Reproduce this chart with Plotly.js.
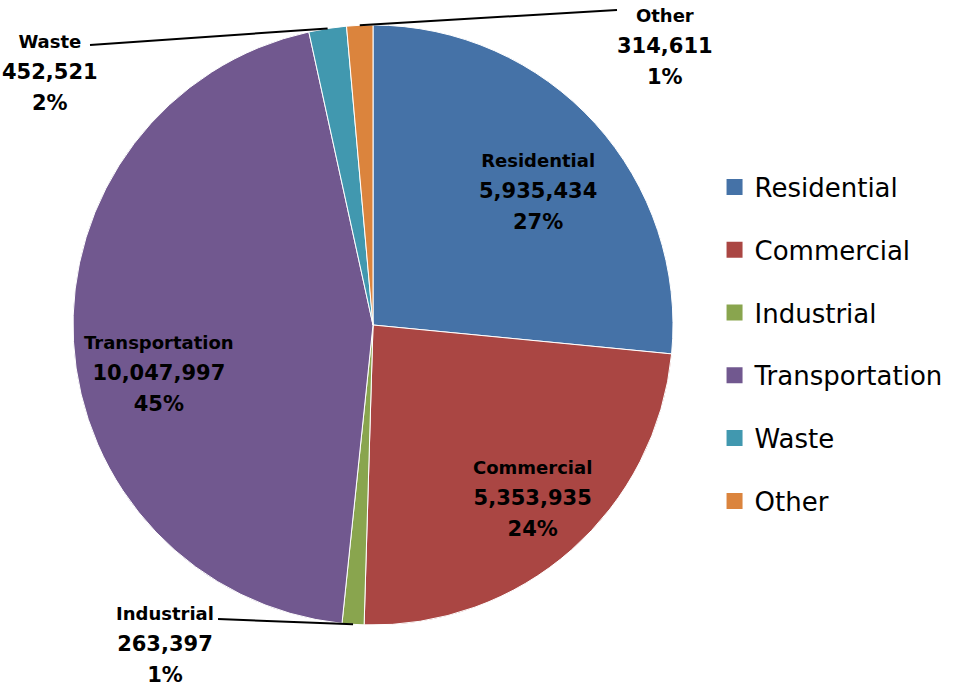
<!DOCTYPE html>
<html>
<head>
<meta charset="utf-8">
<script src="https://cdn.plot.ly/plotly-3.0.1.min.js"></script>
<style>html,body{margin:0;padding:0;background:#fff;}#chart{width:954px;height:687px;}</style>
</head>
<body>
<div id="chart"></div>
<script>
const categories = ['Residential', 'Commercial', 'Industrial', 'Transportation', 'Waste', 'Other'];
const values = [5935434, 5353935, 263397, 10047997, 452521, 314611];
const colors = ['#4572A7', '#AA4643', '#89A54E', '#71588F', '#4198AF', '#DB843D'];

const W = 954, H = 687;
const CX = 373, CY = 325, R = 300;
const FONT = 'DejaVu Sans, sans-serif';

const total = values.reduce((a, b) => a + b, 0);
function pxToPaper(px, py) { return [px / W, 1 - py / H]; }

// mid-angle of each slice (clockwise from 12 o'clock), derived from the data
let cum = 0;
const midAngle = values.map(v => {
  const mid = (cum + v / 2) / total * 2 * Math.PI;
  cum += v;
  return mid;
});
function polar(a, r) { return [CX + r * Math.sin(a), CY - r * Math.cos(a)]; }

// label placement style: inside labels use radial factor + nudge; outside labels
// use a text centre and a leader-line tail (pixels)
const labelStyle = [
  {inside: true, rf: 0.72, dx: 5, dy: 12},
  {inside: true, rf: 0.74, dx: 13, dy: 7},
  {inside: false, tx: 165, ty: 645, lx: 218, ly: 619},
  {inside: true, rf: 0.72, dx: 2, dy: 37},
  {inside: false, tx: 50, ty: 73, lx: 90, ly: 45},
  {inside: false, tx: 665, ty: 47, lx: 617, ly: 10}
];

const annotations = [];
const shapes = [];
categories.forEach((c, i) => {
  const s = labelStyle[i];
  const pct = Math.round(values[i] / total * 100) + '%';
  let px, py;
  if (s.inside) {
    [px, py] = polar(midAngle[i], R * s.rf);
    px += s.dx; py += s.dy;
  } else {
    px = s.tx; py = s.ty;
    const [ex, ey] = polar(midAngle[i], R);
    const [x0, y0] = pxToPaper(ex, ey);
    const [x1, y1] = pxToPaper(s.lx, s.ly);
    shapes.push({type: 'line', xref: 'paper', yref: 'paper', x0: x0, y0: y0, x1: x1, y1: y1,
      line: {color: '#000', width: 2}});
  }
  const [ax, ay] = pxToPaper(px, py);
  annotations.push({
    xref: 'paper', yref: 'paper', x: ax, y: ay, xanchor: 'center', yanchor: 'middle',
    showarrow: false, align: 'center',
    text: '<b><span style="font-size:18px">' + c + '</span><br><span style="font-size:21px">' +
      values[i].toLocaleString('en-US') + '</span><br><span style="font-size:21px">' + pct + '</span></b>',
    font: {family: FONT, size: 24, color: '#000'}
  });
});

const pie = {
  type: 'pie',
  labels: categories,
  values: values,
  sort: false,
  direction: 'clockwise',
  rotation: 0,
  marker: {colors: colors, line: {color: '#ffffff', width: 1}},
  textinfo: 'none',
  hoverinfo: 'skip',
  showlegend: false,
  domain: {x: [(CX - R) / W, (CX + R) / W], y: [1 - (CY + R) / H, 1 - (CY - R) / H]}
};

const legendTraces = categories.map((c, i) => ({
  type: 'scatter', mode: 'markers', x: [null], y: [null], name: c,
  legendgroup: 'g' + i, showlegend: true,
  marker: {symbol: 'square', size: 18, color: colors[i]}
}));

const layout = {
  width: W, height: H,
  margin: {l: 0, r: 0, t: 0, b: 0},
  paper_bgcolor: '#fff', plot_bgcolor: '#fff',
  xaxis: {visible: false}, yaxis: {visible: false},
  showlegend: true,
  legend: {
    x: 0.749, y: 0.762, xanchor: 'left', yanchor: 'top',
    font: {family: FONT, size: 26, color: '#000'},
    traceorder: 'grouped', tracegroupgap: 26, itemwidth: 30
  },
  annotations: annotations,
  shapes: shapes
};

Plotly.newPlot('chart', [pie].concat(legendTraces), layout, {displayModeBar: false, staticPlot: true});
</script>
</body>
</html>
